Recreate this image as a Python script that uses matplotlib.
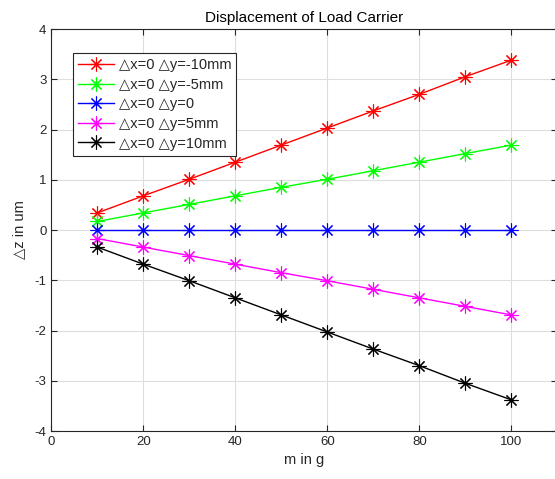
import numpy as np
import matplotlib.pyplot as plt

plt.rcParams['font.family'] = ['Liberation Sans', 'DejaVu Sans']
plt.rcParams['axes.unicode_minus'] = False

# data
m = [10, 20, 30, 40, 50, 60, 70, 80, 90, 100]
dz_m10 = [0.34, 0.68, 1.01, 1.35, 1.69, 2.03, 2.37, 2.70, 3.05, 3.38]
dz_m5 = [0.17, 0.34, 0.51, 0.68, 0.85, 1.01, 1.18, 1.35, 1.52, 1.69]
dz_0 = [0, 0, 0, 0, 0, 0, 0, 0, 0, 0]
dz_p5 = [-0.17, -0.34, -0.51, -0.68, -0.85, -1.01, -1.18, -1.35, -1.52, -1.69]
dz_p10 = [-0.34, -0.68, -1.01, -1.35, -1.69, -2.03, -2.37, -2.70, -3.05, -3.38]

labels = ['△x=0 △y=-10mm', '△x=0 △y=-5mm', '△x=0 △y=0',
          '△x=0 △y=5mm', '△x=0 △y=10mm']
colors = ['#ff0000', '#00ff00', '#0000ff', '#ff00ff', '#000000']
series = [dz_m10, dz_m5, dz_0, dz_p5, dz_p10]

fig = plt.figure(figsize=(5.55, 4.79), dpi=100)
ax = fig.add_axes([51.3 / 555, 48 / 479, 506 / 555, 402 / 479])

for y, c, lab in zip(series, colors, labels):
    ax.plot(m, y, color=c, marker=(8, 2, 0), markersize=10, markeredgewidth=0.8,
            linewidth=1.0, label=lab)

ax.set_xlim(0, 110)
ax.set_ylim(-4, 4)
ax.set_xticks([0, 20, 40, 60, 80, 100])
ax.set_yticks(range(-4, 5))
ax.grid(True, color='#dedede', linewidth=0.8)
ax.set_axisbelow(True)
ax.tick_params(direction='in', top=True, right=True, length=4,
               labelsize=9.5, colors='#262626', width=0.8)
for s in ax.spines.values():
    s.set_color('#262626')
    s.set_linewidth(0.8)

ax.set_title('Displacement of Load Carrier', fontsize=11, pad=5)
ax.set_xlabel('m in g', fontsize=10.5, color='#262626', labelpad=4)
ax.set_ylabel('△z in um', fontsize=10.5, color='#262626', labelpad=6)

leg = ax.legend(loc='upper left', bbox_to_anchor=(21.4 / 506, 1 - 24.3 / 402),
                fontsize=10.5, frameon=True, fancybox=False, borderaxespad=0,
                handlelength=2.5, handletextpad=0.3, labelspacing=0.38,
                borderpad=0.35, edgecolor='#262626', framealpha=1,
                labelcolor='#262626')
leg.get_frame().set_linewidth(0.8)

plt.savefig('out.png', dpi=100)
